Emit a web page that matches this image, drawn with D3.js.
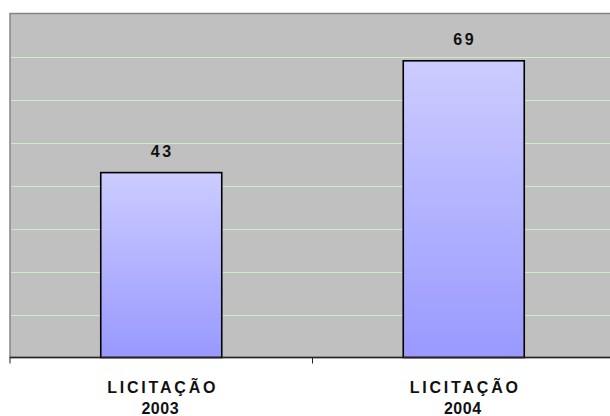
<!DOCTYPE html>
<html>
<head>
<meta charset="utf-8">
<script src="https://cdn.jsdelivr.net/npm/d3@7"></script>
<style>
  html, body { margin: 0; padding: 0; background: #fff; }
  svg { display: block; font-family: "Liberation Sans", Arial, sans-serif; }
</style>
</head>
<body>
<svg id="chart" width="610" height="416"></svg>
<script>
const categories = ["LICITAÇÃO 2003", "LICITAÇÃO 2004"];
const values = [43, 69];
const yTicks = [0, 10, 20, 30, 40, 50, 60, 70, 80];

const svg = d3.select("#chart");
const plot = { left: 10, right: 615, top: 13.5, bottom: 357.5 };

const x = d3.scaleBand()
  .domain(categories)
  .range([plot.left, plot.right])
  .paddingInner(0.6)
  .paddingOuter(0.3);

const y = d3.scaleLinear()
  .domain([0, 80])
  .range([plot.bottom, plot.top]);

const defs = svg.append("defs");
const grad = defs.append("linearGradient")
  .attr("id", "barGrad")
  .attr("x1", 0).attr("y1", 0).attr("x2", 0).attr("y2", 1);
grad.append("stop").attr("offset", "0%").attr("stop-color", "#ccccff");
grad.append("stop").attr("offset", "100%").attr("stop-color", "#9999ff");

// plot background
svg.append("rect")
  .attr("x", plot.left)
  .attr("y", plot.top)
  .attr("width", plot.right - plot.left + 10)
  .attr("height", plot.bottom - plot.top)
  .attr("fill", "#c0c0c0")
  .attr("stroke", "#858585")
  .attr("stroke-width", 1.5);

// gridlines
svg.append("g")
  .selectAll("line")
  .data(yTicks.filter(t => t > 0 && t < 80))
  .join("line")
  .attr("x1", plot.left + 1)
  .attr("x2", 610)
  .attr("y1", d => Math.round(y(d)) + 0.5)
  .attr("y2", d => Math.round(y(d)) + 0.5)
  .attr("stroke", "#c8f0c8")
  .attr("stroke-width", 1);

// bars
svg.append("g")
  .selectAll("rect")
  .data(values)
  .join("rect")
  .attr("x", (d, i) => x(categories[i]))
  .attr("y", d => y(d))
  .attr("width", x.bandwidth())
  .attr("height", d => y(0) - y(d))
  .attr("fill", "url(#barGrad)")
  .attr("stroke", "#000")
  .attr("stroke-width", 1.6);

// value labels
svg.append("g")
  .selectAll("text")
  .data(values)
  .join("text")
  .attr("x", (d, i) => x(categories[i]) + x.bandwidth() / 2 + 1)
  .attr("y", d => y(d) - 16)
  .attr("text-anchor", "middle")
  .attr("font-size", 16)
  .attr("font-weight", "bold")
  .attr("letter-spacing", 2.5)
  .attr("fill", "#111")
  .text(d => d);

// bottom axis line
const axisG = svg.append("g").attr("transform", `translate(0,${plot.bottom})`);
axisG.call(d3.axisBottom(x).tickSize(0).tickFormat(""));
axisG.select(".domain").attr("stroke", "#222").attr("stroke-width", 1.5).attr("d", `M${plot.left},0H${plot.right}`);

// tick marks between categories
const boundaries = d3.range(categories.length + 1).map(i => plot.left + i * x.step());
axisG.append("g")
  .selectAll("line")
  .data(boundaries)
  .join("line")
  .attr("x1", d => d).attr("x2", d => d)
  .attr("y1", 0).attr("y2", 6)
  .attr("stroke", "#222")
  .attr("stroke-width", 1);

// category labels (two lines)
const labels = svg.append("g")
  .selectAll("g")
  .data(categories)
  .join("g")
  .attr("transform", d => `translate(${x(d) + x.bandwidth() / 2},0)`);

labels.append("text")
  .attr("x", 1.5)
  .attr("y", 393)
  .attr("text-anchor", "middle")
  .attr("font-size", 16)
  .attr("font-weight", "bold")
  .attr("letter-spacing", 2.8)
  .attr("fill", "#111")
  .text(d => d.slice(0, d.lastIndexOf(" ")));

labels.append("text")
  .attr("x", -1)
  .attr("y", 413.5)
  .attr("text-anchor", "middle")
  .attr("font-size", 16)
  .attr("font-weight", "bold")
  .attr("letter-spacing", 0.5)
  .attr("fill", "#111")
  .text(d => d.slice(d.lastIndexOf(" ") + 1));
</script>
</body>
</html>
